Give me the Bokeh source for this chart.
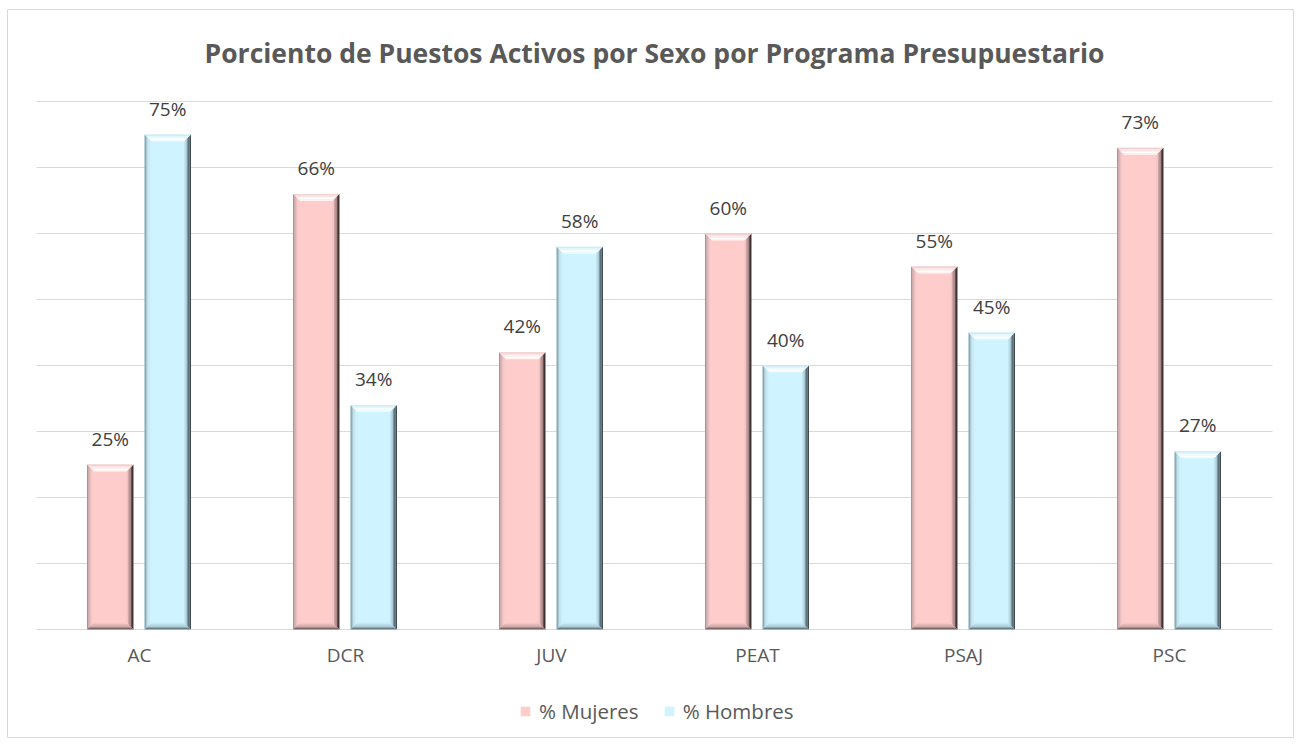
import numpy as np
from bokeh.plotting import figure
from bokeh.models import Range1d, Legend, LegendItem, ColumnDataSource
from bokeh.core.properties import value
from bokeh.embed import file_html
from bokeh.resources import INLINE

# ---- data ----
categories = ["AC", "DCR", "JUV", "PEAT", "PSAJ", "PSC"]
mujeres = [25, 66, 42, 60, 55, 73]
hombres = [75, 34, 58, 40, 45, 27]
series_names = ["% Mujeres", "% Hombres"]
title_text = "Porciento de Puestos Activos por Sexo por Programa Presupuestario"
grid_ticks = [0, 10, 20, 30, 40, 50, 60, 70, 80]

FONT = "Open Sans"
W, H = 1294, 738
# pixel layout of the plotting area
FL, FR, FT, FB = 7, 1293, 9, 738          # frame edges (outline = chart border)
AL, AR, AT, AB = 36, 1272, 101, 629       # inner chart area (0..6, 0..0.8)
sx = (AR - AL) / 6.0
sy = (AB - AT) / 0.8

p = figure(x_range=Range1d(-(AL - FL) / sx, 6 + (FR - AR) / sx),
           y_range=Range1d(-(FB - AB) / sy, 0.8 + (AT - FT) / sy),
           width=W, height=H, output_backend="svg", toolbar_location=None,
           x_axis_location=None, y_axis_location=None,
           min_border_left=FL, min_border_right=W - FR,
           min_border_top=FT, min_border_bottom=H - FB)
p.outline_line_color = "#d9d9d9"
p.outline_line_width = 1
p.background_fill_color = "white"
p.border_fill_color = "white"
p.grid.visible = False

# gridlines
gy = [t / 100 for t in grid_ticks]
p.segment(x0=[0] * len(gy), x1=[6] * len(gy), y0=gy, y1=gy,
          line_color="#d9d9d9", line_width=1)

# geometry (in data units)
px_x = 1 / sx
px_y = 1 / sy
bar_w = 0.225
offsets = [-0.142, 0.137]
bev = 7  # pixels
nb = 5

palettes = [
    dict(base="#FFCCCC",
         right=["#3a2e2e", "#665050", "#9c7f7f", "#cfa7a7", "#f2c2c2"],
         left=["#a88c8c", "#d0aeae", "#e8c0c0", "#f6c9c9", "#fdcccc"],
         top=["#f0d2d2", "#f8e4e4", "#fdf3f3", "#ffffff", "#fff4f4"],
         bottom=["#806868", "#a88a8a", "#caa6a6", "#e6baba", "#f6c6c6"]),
    dict(base="#CFF3FF",
         right=["#2e3a40", "#50626a", "#7e96a0", "#a8c6d1", "#c2e6f2"],
         left=["#8aa2ac", "#acc8d2", "#c0deea", "#caedf8", "#cdf1fd"],
         top=["#d2ebf4", "#e4f5fa", "#f3fcff", "#ffffff", "#f0fbff"],
         bottom=["#688088", "#8aa8b2", "#a8c8d4", "#bcdfe9", "#c8ecf7"]),
]

renderers = []
for si, vals in enumerate([mujeres, hombres]):
    pal = palettes[si]
    centers = np.arange(len(categories)) + 0.5 + offsets[si]
    tops = np.array(vals) / 100.0
    src = ColumnDataSource(dict(x=centers, top=tops))
    r = p.vbar(x="x", top="top", bottom=0, width=bar_w, source=src,
               fill_color=pal["base"], line_color=None)
    renderers.append(r)

    L = centers - bar_w / 2
    R = centers + bar_w / 2
    xs, ys, cols = [], [], []
    for k in range(nb):
        dx0, dx1 = k * bev / nb * px_x, (k + 1) * bev / nb * px_x
        dy0, dy1 = k * bev / nb * px_y, (k + 1) * bev / nb * px_y
        for l, rr, t in zip(L, R, tops):
            xs.append([rr - dx0, rr - dx1, rr - dx1, rr - dx0])
            ys.append([t - dy0, t - dy1, dy1, dy0])
            cols.append(pal["right"][k])
            xs.append([l + dx0, l + dx1, l + dx1, l + dx0])
            ys.append([t - dy0, t - dy1, dy1, dy0])
            cols.append(pal["left"][k])
            xs.append([l + dx0, rr - dx0, rr - dx1, l + dx1])
            ys.append([t - dy0, t - dy0, t - dy1, t - dy1])
            cols.append(pal["top"][k])
            xs.append([l + dx0, rr - dx0, rr - dx1, l + dx1])
            ys.append([dy0, dy0, dy1, dy1])
            cols.append(pal["bottom"][k])
    p.patches(xs=xs, ys=ys, fill_color=cols, line_color=None)

    lsrc = ColumnDataSource(dict(x=centers, y=tops,
                                 t=[f"{v}%" for v in vals]))
    p.text(x="x", y="y", text="t", source=lsrc, text_align="center",
           text_baseline="middle", y_offset=-26,
           text_font=value(FONT), text_font_size="19px",
           text_color="#404040")

# category labels (x axis)
csrc = ColumnDataSource(dict(x=np.arange(len(categories)) + 0.5,
                             y=[0] * len(categories), t=categories))
p.text(x="x", y="y", text="t", source=csrc, text_align="center",
       text_baseline="middle", y_offset=25,
       text_font=value(FONT), text_font_size="19px", text_color="#595959")

# title
p.text(x=[3], y=[0.8], text=[title_text], text_align="center",
       text_baseline="middle", y_offset=-49,
       text_font=value(FONT), text_font_size="26.5px",
       text_font_style="bold", text_color="#595959")

legend = Legend(items=[LegendItem(label=series_names[0], renderers=[renderers[0]]),
                       LegendItem(label=series_names[1], renderers=[renderers[1]])],
                orientation="horizontal", location=(512, 13),
                label_text_font=FONT, label_text_font_size="20.5px",
                label_text_color="#595959", glyph_width=12, glyph_height=12,
                label_standoff=8, spacing=24, border_line_color=None,
                background_fill_alpha=0, margin=0, padding=4)
p.add_layout(legend)

open("out.html", "w").write(file_html(p, INLINE))
